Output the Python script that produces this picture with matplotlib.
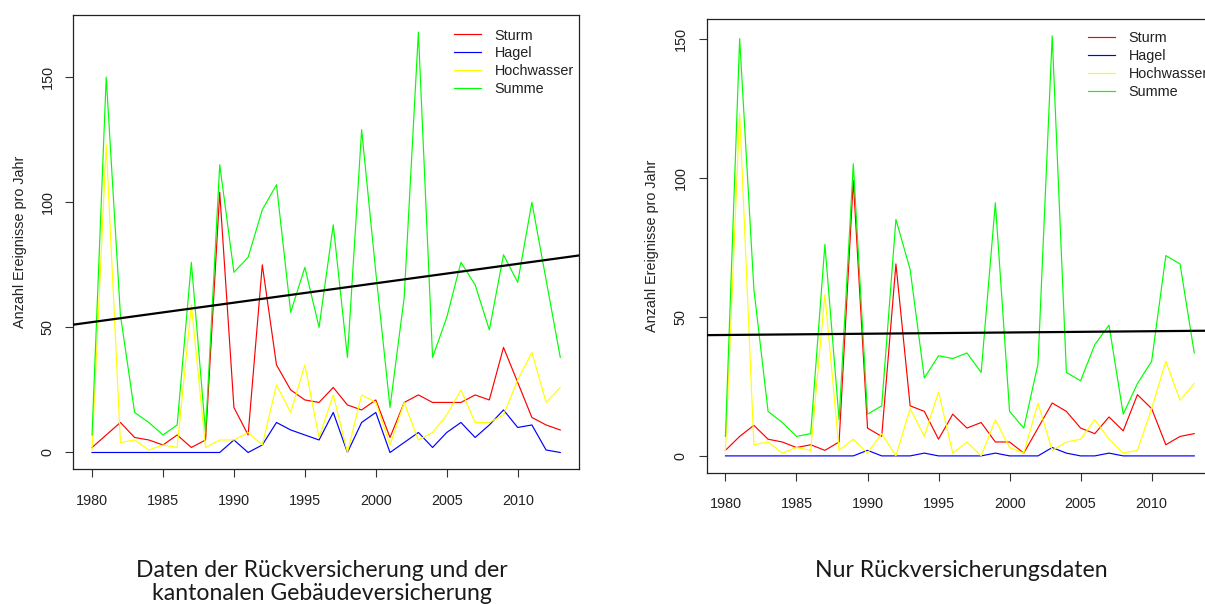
import numpy as np
import matplotlib
matplotlib.use("Agg")
import matplotlib.pyplot as plt

# Jahre der Zeitreihe
years = list(range(1980, 2014))

# Rückversicherung + kantonale Gebäudeversicherung
sturm_all = [2, 7, 12, 6, 5, 3, 7, 2, 5, 104, 18, 7, 75, 35, 25, 21, 20, 26, 19, 17,
             21, 6, 20, 23, 20, 20, 20, 23, 21, 42, 28, 14, 11, 9]
hagel_all = [0, 0, 0, 0, 0, 0, 0, 0, 0, 0, 5, 0, 3, 12, 9, 7, 5, 16, 0, 12,
             16, 0, 4, 8, 2, 8, 12, 6, 11, 17, 10, 11, 1, 0]
hochwasser_all = [1, 123, 4, 5, 1, 3, 2, 59, 2, 5, 5, 8, 3, 27, 16, 35, 6, 23, 0, 23,
                  20, 3, 20, 5, 8, 15, 25, 12, 12, 15, 29, 40, 20, 26]
summe_all = [7, 150, 55, 16, 12, 7, 11, 76, 8, 115, 72, 78, 97, 107, 56, 74, 50, 91, 38, 129,
             72, 18, 62, 168, 38, 54, 76, 67, 49, 79, 68, 100, 69, 38]

# Nur Rückversicherung
sturm_rv = [2, 7, 11, 6, 5, 3, 4, 2, 5, 99, 10, 7, 69, 18, 16, 6, 15, 10, 12, 5,
            5, 1, 10, 19, 16, 10, 8, 14, 9, 22, 17, 4, 7, 8]
hagel_rv = [0, 0, 0, 0, 0, 0, 0, 0, 0, 0, 2, 0, 0, 0, 1, 0, 0, 0, 0, 1,
            0, 0, 0, 3, 1, 0, 0, 1, 0, 0, 0, 0, 0, 0]
hochwasser_rv = [2, 123, 4, 5, 1, 3, 2, 58, 2, 6, 1, 8, 0, 17, 7, 23, 1, 5, 0, 13,
                 3, 1, 19, 2, 5, 6, 13, 6, 1, 2, 17, 34, 20, 26]
summe_rv = [7, 150, 60, 16, 12, 7, 8, 76, 13, 105, 15, 18, 85, 67, 28, 36, 35, 37, 30, 91,
            16, 10, 33, 151, 30, 27, 40, 47, 15, 26, 34, 72, 69, 37]

series_labels = ["Sturm", "Hagel", "Hochwasser", "Summe"]
series_colors = ["#ff0000", "#0000ff", "#ffff00", "#00ff00"]
x_ticks = [1980, 1985, 1990, 1995, 2000, 2005, 2010]
y_ticks = [0, 50, 100, 150]

W, H = 1205, 604
plt.rcParams["font.family"] = ["Liberation Sans", "DejaVu Sans"]
plt.rcParams["font.size"] = 10.4
TXT = "#222222"
CAPTION_FONT = ["Lato", "DejaVu Sans"]

fig = plt.figure(figsize=(W / 100, H / 100), dpi=100)


def px_axes(x0, y0, x1, y1):
    return fig.add_axes([x0 / W, 1 - y1 / H, (x1 - x0) / W, (y1 - y0) / H])


def panel(ax, data, legend_xy, ylabel_off):
    for vals, lab, col in zip(data, series_labels, series_colors):
        ax.plot(years, vals, color=col, lw=0.85, label=lab)
    total = data[-1]
    k, d = np.polyfit(years, total, 1)
    ax.axline((years[0], d + k * years[0]), slope=k, color="black", lw=1.6, zorder=5)

    ymax = max(max(v) for v in data)
    span = years[-1] - years[0]
    ax.set_xlim(years[0] - 0.04 * span, years[-1] + 0.04 * span)
    ax.set_ylim(-0.04 * ymax, 1.04 * ymax)
    ax.set_xticks(x_ticks)
    ax.set_yticks(y_ticks)
    ax.tick_params(direction="out", length=5.5, width=0.8, colors="#333333",
                   labelcolor=TXT, labelsize=10.4)
    ax.tick_params(axis="x", pad=12)
    ax.tick_params(axis="y", pad=8)
    plt.setp(ax.get_yticklabels(), rotation=90, va="center")
    for sp in ax.spines.values():
        sp.set_color("#222222")
        sp.set_linewidth(0.9)
    ax.set_ylabel("Anzahl Ereignisse pro Jahr", color=TXT, fontsize=10.4)
    ax.yaxis.set_label_coords(ylabel_off, 0.5)

    ax.legend(loc="upper left", bbox_to_anchor=(legend_xy[0] / W, 1 - legend_xy[1] / H),
              bbox_transform=fig.transFigure, frameon=False, fontsize=10.4,
              handlelength=1.9, handletextpad=0.9, labelspacing=0.26,
              borderpad=0, borderaxespad=0, labelcolor=TXT)


ax1 = px_axes(73.3, 15.3, 579, 469.3)
panel(ax1, [sturm_all, hagel_all, hochwasser_all, summe_all], (454, 28.5), -0.091)

ax2 = px_axes(706.7, 19, 1213, 472.7)
panel(ax2, [sturm_rv, hagel_rv, hochwasser_rv, summe_rv], (1088, 31.5), -0.094)

# Bildunterschriften unter den beiden Diagrammen
fig.text(322 / W, 1 - 577 / H, "Daten der Rückversicherung und der",
         ha="center", va="baseline", fontsize=16.6, family=CAPTION_FONT, color="#1a1a1a")
fig.text(322 / W, 1 - 600 / H, "kantonalen Gebäudeversicherung",
         ha="center", va="baseline", fontsize=16.6, family=CAPTION_FONT, color="#1a1a1a")
fig.text(961 / W, 1 - 577 / H, "Nur Rückversicherungsdaten",
         ha="center", va="baseline", fontsize=16.6, family=CAPTION_FONT, color="#1a1a1a")

fig.savefig("out.png", dpi=100)
